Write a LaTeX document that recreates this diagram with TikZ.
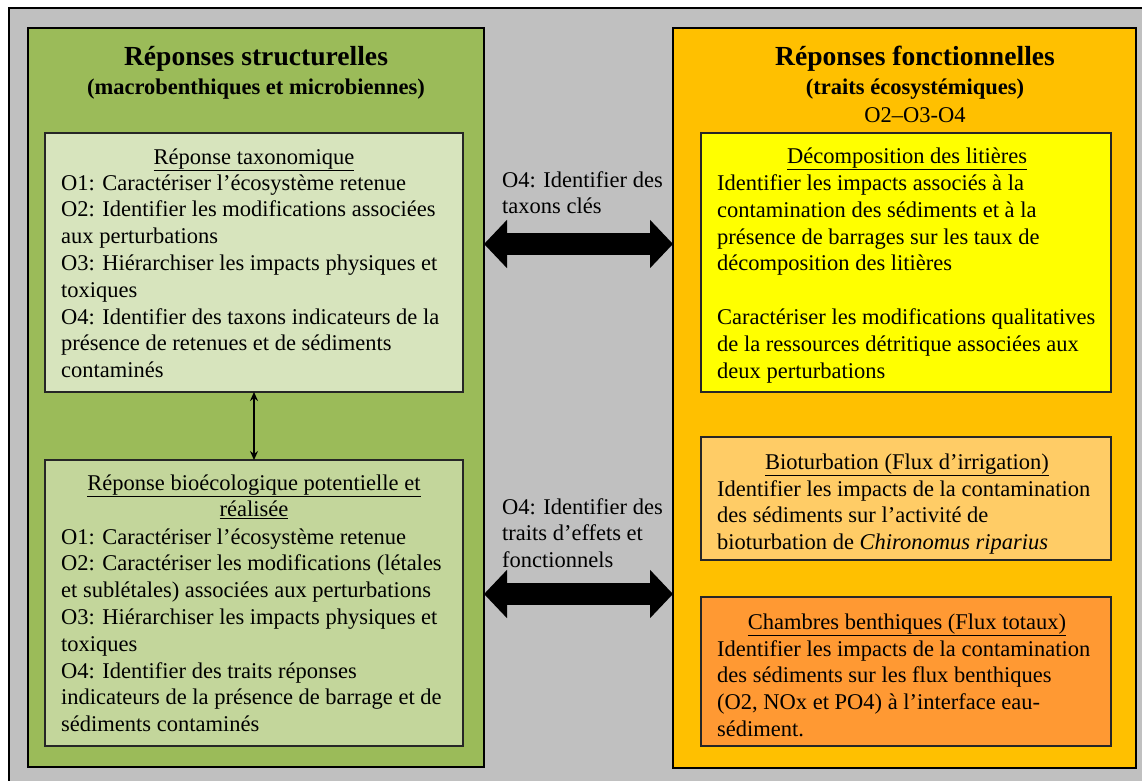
\documentclass[tikz,border=0pt]{standalone}
\usepackage{fontspec}
\setmainfont{Liberation Serif}
\usetikzlibrary{arrows.meta,calc}
\definecolor{bggray}{HTML}{C0C0C0}
\definecolor{sgreen}{HTML}{9BBB59}
\definecolor{lgreenA}{HTML}{D7E4BD}
\definecolor{lgreenB}{HTML}{C3D69B}
\definecolor{forange}{HTML}{FFC000}
\definecolor{fyellow}{HTML}{FFFF00}
\definecolor{lorange}{HTML}{FFCC66}
\definecolor{dorange}{HTML}{FF9933}
\begin{document}
\begin{tikzpicture}[x=1pt,y=-1pt,
  bigbox/.style={draw=black, line width=2.4pt, inner sep=0pt, outer sep=0pt},
  subbox/.style={draw=black!85, line width=1.1pt, inner sep=0pt, outer sep=0pt},
  body/.style={font=\fontsize{22.5}{26.8}\selectfont, align=left, inner sep=0pt, anchor=base west},
  ttl/.style={font=\fontsize{22.5}{26.8}\selectfont, align=center, inner sep=0pt, anchor=base},
  hdr/.style={font=\fontsize{27.6}{30}\selectfont\bfseries, inner sep=0pt, anchor=base},
  subhdr/.style={font=\fontsize{22.5}{28}\selectfont, align=center, inner sep=0pt, anchor=base},
  bigarrow/.style={line width=22pt, {Triangle[length=23pt,width=47pt]}-{Triangle[length=23pt,width=47pt]}},
  thinarrow/.style={line width=1.8pt, {Stealth[length=9pt,width=8pt]}-{Stealth[length=9pt,width=8pt]}}
]
\useasboundingbox (0,0) rectangle (1142,780);
\clip (0,0) rectangle (1142,780);
\fill[white] (0,0) rectangle (1142,780);
% outer frame
\node[draw=black, line width=2pt, fill=bggray, inner sep=0pt, minimum width=1150pt, minimum height=790pt, anchor=north west] (frame) at (8,7) {};
% main columns
\node[bigbox, fill=sgreen, minimum width=456pt, minimum height=739pt] (green) at (256,397.5) {};
\node[bigbox, fill=forange, minimum width=463pt, minimum height=740pt] (orange) at (904.5,398) {};
% headers
\node[hdr] (hL) at (256,65) {Réponses structurelles};
\node[subhdr] (sL) at (256,94) {\textbf{(macrobenthiques et microbiennes)}};
\node[hdr] (hR) at (915,65) {Réponses fonctionnelles};
\node[subhdr] (sR) at (915,122) {\textbf{(traits écosystémiques)}\\O2–O3-O4};
% left sub boxes
\node[subbox, fill=lgreenA, minimum width=418pt, minimum height=259pt] (tax) at (254,262.5) {};
\node[subbox, fill=lgreenB, minimum width=418pt, minimum height=286pt] (bio) at (254,603) {};
% right sub boxes
\node[subbox, fill=fyellow, minimum width=410pt, minimum height=259pt] (lit) at (906,262.5) {};
\node[subbox, fill=lorange, minimum width=410pt, minimum height=123pt] (biot) at (906,498.5) {};
\node[subbox, fill=dorange, minimum width=410pt, minimum height=149pt] (cham) at (906,671.5) {};
% texts left (anchored at the baseline of the last line)
\node[ttl] (taxT) at (254,164) {\underline{Réponse taxonomique}};
\node[body] (taxB) at (61,377.6) {O1: Caractériser l’écosystème retenue\\
O2: Identifier les modifications associées\\
aux perturbations\\
O3: Hiérarchiser les impacts physiques et\\
toxiques\\
O4: Identifier des taxons indicateurs de la\\
présence de retenues et de sédiments\\
contaminés};
\node[ttl] (bioT) at (254,516.8) {\underline{Réponse bioécologique potentielle et}\\\underline{réalisée}};
\node[body] (bioB) at (61,731.6) {O1: Caractériser l’écosystème retenue\\
O2: Caractériser les modifications (létales\\
et sublétales) associées aux perturbations\\
O3: Hiérarchiser les impacts physiques et\\
toxiques\\
O4: Identifier des traits réponses\\
indicateurs de la présence de barrage et de\\
sédiments contaminés};
% texts right
\node[ttl] (litT) at (907,163) {\underline{Décomposition des litières}};
\node[body] (litB) at (717,378) {Identifier les impacts associés à la\\
contamination des sédiments et à la\\
présence de barrages sur les taux de\\
décomposition des litières\\[26.8pt]
Caractériser les modifications qualitatives\\
de la ressources détritique associées aux\\
deux perturbations};
\node[ttl] (biotT) at (907,469) {\underline{Bioturbation (Flux d’irrigation)}};
\node[body] (biotB) at (717,549.6) {Identifier les impacts de la contamination\\
des sédiments sur l’activité de\\
bioturbation de \textit{Chironomus riparius}};
\node[ttl] (chamT) at (907,629) {\underline{Chambres benthiques (Flux totaux)}};
\node[body] (chamB) at (717,736.4) {Identifier les impacts de la contamination\\
des sédiments sur les flux benthiques\\
(O2, NOx et PO4) à l’interface eau-\\
sédiment.};
% arrow labels
\node[body] (lab1) at (502,213.8) {O4: Identifier des\\taxons clés};
\node[body] (lab2) at (502,567.6) {O4: Identifier des\\traits d’effets et\\fonctionnels};
% connectors
\coordinate (ya) at (0,244);
\coordinate (yb) at (0,594);
\draw[bigarrow] (green.east |- ya) -- (orange.west |- ya);
\draw[bigarrow] (green.east |- yb) -- (orange.west |- yb);
\draw[thinarrow] (tax.south) -- (bio.north);
\end{tikzpicture}
\end{document}
